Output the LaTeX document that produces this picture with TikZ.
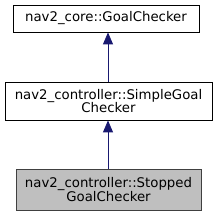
\documentclass[tikz,border=0pt]{standalone}
\usepackage{fontspec}
\setmainfont{DejaVu Sans}
\usepackage{tikz}
\usetikzlibrary{arrows.meta}

\begin{document}
\begin{tikzpicture}[x=1pt, y=-1pt,
                    klass/.style={draw=black, fill=white, line width=0.8pt, inner sep=0pt,
                                  align=center, font=\fontsize{13.3}{13.5}\selectfont},
                    current/.style={klass, draw=black!75, fill=black!25},
                    inherit/.style={-{Triangle[length=12pt, width=10pt]}, line width=0.8pt, draw={rgb,255:red,25;green,25;blue,112}, fill={rgb,255:red,25;green,25;blue,112}}]

    \useasboundingbox (0,0) rectangle (217,216);

    \node[klass, minimum width=186pt, minimum height=27pt] (core) at (106,18.5) {nav2\_core::GoalChecker};
    \node[klass, minimum width=207pt, minimum height=38pt] (simple) at (108.5,101) {nav2\_controller::SimpleGoal\\Checker};
    \node[current, minimum width=185pt, minimum height=41pt] (stopped) at (108.5,189.5) {nav2\_controller::Stopped\\GoalChecker};

    \draw[inherit] (simple.north -| 108,0) -- (core.south -| 108,0);
    \draw[inherit] (stopped.north -| 108,0) -- (simple.south -| 108,0);
\end{tikzpicture}
\end{document}
